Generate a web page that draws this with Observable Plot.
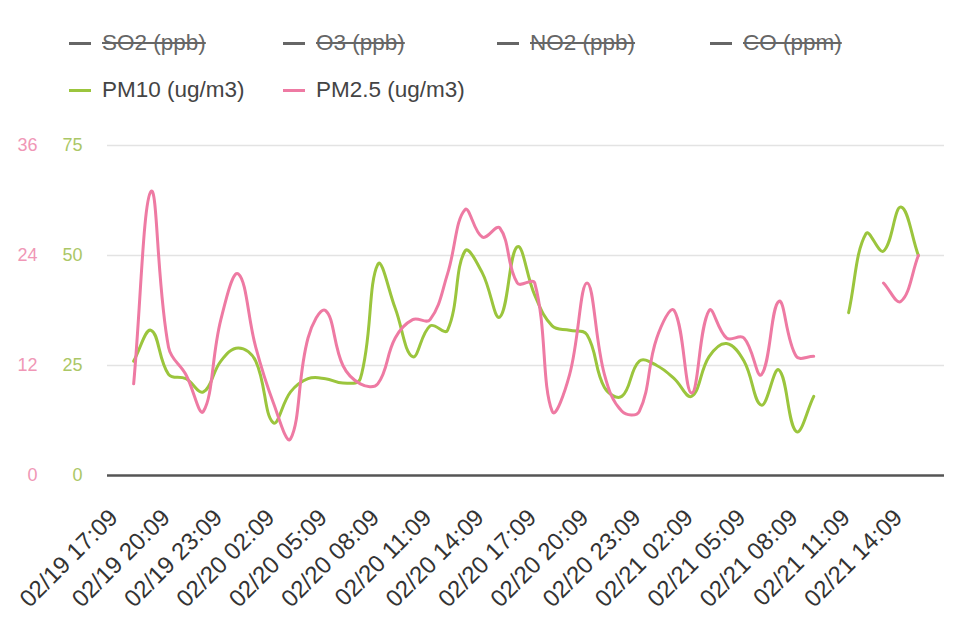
<!DOCTYPE html>
<html>
<head>
<meta charset="utf-8">
<script src="https://cdn.jsdelivr.net/npm/d3@7"></script>
<script src="https://cdn.jsdelivr.net/npm/@observablehq/plot@0.6"></script>
<style>
  html, body { margin: 0; padding: 0; background: #fff; }
  #wrap { position: relative; width: 960px; height: 640px; font-family: "Liberation Sans", Arial, sans-serif; }
  .lg { position: absolute; display: flex; align-items: center; font-size: 22.5px; color: #444; white-space: nowrap; }
  .lg .sw { width: 22px; height: 3px; margin-right: 11px; }
  .lg.off { color: #666; text-decoration: line-through; }
  #chart { position: absolute; left: 0; top: 120px; }
</style>
</head>
<body>
<div id="wrap">
  <div id="legend"></div>
  <div id="chart"></div>
</div>
<script>
// ---- data ----
const times = [
  "02/19 17:09","02/19 18:09","02/19 19:09","02/19 20:09","02/19 21:09","02/19 22:09","02/19 23:09",
  "02/20 00:09","02/20 01:09","02/20 02:09","02/20 03:09","02/20 04:09","02/20 05:09","02/20 06:09",
  "02/20 07:09","02/20 08:09","02/20 09:09","02/20 10:09","02/20 11:09","02/20 12:09","02/20 13:09",
  "02/20 14:09","02/20 15:09","02/20 16:09","02/20 17:09","02/20 18:09","02/20 19:09","02/20 20:09",
  "02/20 21:09","02/20 22:09","02/20 23:09","02/21 00:09","02/21 01:09","02/21 02:09","02/21 03:09",
  "02/21 04:09","02/21 05:09","02/21 06:09","02/21 07:09","02/21 08:09","02/21 09:09","02/21 10:09",
  "02/21 11:09","02/21 12:09","02/21 13:09","02/21 14:09"
];
const xTickLabels = [
  "02/19 17:09","02/19 20:09","02/19 23:09","02/20 02:09","02/20 05:09","02/20 08:09","02/20 11:09",
  "02/20 14:09","02/20 17:09","02/20 20:09","02/20 23:09","02/21 02:09","02/21 05:09","02/21 08:09",
  "02/21 11:09","02/21 14:09"
];
const pm10 = [26,33,23,22,19,26,29,26,12,19,22,22,21,22,48,38,27,34,33,51,46,36,52,41,34,33,32,20,18,26,25,22,18,27,30,26,16,24,10,18,null,37,55,51,61,50];
const pm25 = [10,31,14,11,7,17,22,14,8,4,15,18,12,10,10,15,17,17,22,29,26,27,21,21,7,11,21,11,7,7,15,18,9,18,15,15,11,19,13,13,null,null,null,21,19,24];
const pm10Ticks = [0,25,50,75];
const pm25Ticks = [0,12,24,36];
const legendItems = [
  {label: "SO2 (ppb)", color: "#666", off: true},
  {label: "O3 (ppb)", color: "#666", off: true},
  {label: "NO2 (ppb)", color: "#666", off: true},
  {label: "CO (ppm)", color: "#666", off: true},
  {label: "PM10 (ug/m3)", color: "#9bc53d", off: false},
  {label: "PM2.5 (ug/m3)", color: "#ee7aa3", off: false}
];

const GREEN = "#9bc53d", PINK = "#ee7aa3";
const PM25_MAX = 36, PM10_MAX = 75;

// ---- legend ----
const legendPos = [[69,43],[283,43],[497,43],[710,43],[69,90],[283,90]];
const lg = document.getElementById("legend");
legendItems.forEach((it, i) => {
  const d = document.createElement("div");
  d.className = "lg" + (it.off ? " off" : "");
  d.style.left = legendPos[i][0] + "px";
  d.style.top = (legendPos[i][1] - 13) + "px";
  d.style.height = "26px";
  const sw = document.createElement("span");
  sw.className = "sw";
  sw.style.background = it.color;
  const tx = document.createElement("span");
  tx.textContent = it.label;
  d.appendChild(sw); d.appendChild(tx);
  lg.appendChild(d);
});

// ---- Chart.js-like spline (tension 0.4) ----
function chartjsCurve(context) {
  let pts = [];
  return {
    areaStart() {}, areaEnd() {},
    lineStart() { pts = []; },
    point(x, y) { pts.push([+x, +y]); },
    lineEnd() {
      const n = pts.length;
      if (!n) return;
      const t = 0.4;
      const cps = pts.map((p, i) => {
        const prev = i > 0 ? pts[i - 1] : p;
        const next = i < n - 1 ? pts[i + 1] : p;
        const d01 = Math.hypot(p[0] - prev[0], p[1] - prev[1]);
        const d12 = Math.hypot(next[0] - p[0], next[1] - p[1]);
        let s01 = d01 / (d01 + d12), s12 = d12 / (d01 + d12);
        if (isNaN(s01)) s01 = 0;
        if (isNaN(s12)) s12 = 0;
        const fa = t * s01, fb = t * s12;
        return {
          px: p[0] - fa * (next[0] - prev[0]), py: p[1] - fa * (next[1] - prev[1]),
          nx: p[0] + fb * (next[0] - prev[0]), ny: p[1] + fb * (next[1] - prev[1])
        };
      });
      context.moveTo(pts[0][0], pts[0][1]);
      if (n === 1) { context.lineTo(pts[0][0], pts[0][1]); return; }
      for (let i = 1; i < n; i++) {
        context.bezierCurveTo(cps[i - 1].nx, cps[i - 1].ny, cps[i].px, cps[i].py, pts[i][0], pts[i][1]);
      }
    }
  };
}

const rows = times.map((t, i) => ({t, pm10: pm10[i], pm25: pm25[i]}));

const chart = Plot.plot({
  width: 960,
  height: 520,
  marginLeft: 107,
  marginRight: 16,
  marginTop: 25,
  marginBottom: 165,
  style: {fontFamily: "'Liberation Sans', Arial, sans-serif", fontSize: "18px", background: "#fff"},
  x: {type: "point", domain: times, padding: 1.5, round: false, axis: null},
  y: {domain: [0, PM10_MAX], axis: null},
  marks: [
    Plot.gridY(pm10Ticks.filter(d => d > 0), {stroke: "#e3e3e3", strokeOpacity: 1, strokeWidth: 1.5}),
    Plot.ruleY([0], {stroke: "#555", strokeWidth: 2.5}),
    Plot.axisY(pm10Ticks, {anchor: "left", tickSize: 0, tickPadding: 25, fill: "#abc766", fontSize: 18}),
    Plot.axisY(pm10Ticks, {anchor: "left", tickSize: 0, tickPadding: 70, fill: "#f097b6", fontSize: 18,
      tickFormat: (d, i) => pm25Ticks[i]}),
    Plot.line(rows, {x: "t", y: d => d.pm10, stroke: GREEN, strokeWidth: 3, curve: chartjsCurve}),
    Plot.line(rows, {x: "t", y: d => d.pm25 == null ? null : d.pm25 * PM10_MAX / PM25_MAX, stroke: PINK, strokeWidth: 3, curve: chartjsCurve}),
    Plot.text(xTickLabels, {x: d => d, frameAnchor: "bottom", dx: -20, dy: 38, rotate: -45,
      textAnchor: "end", lineAnchor: "middle", fontSize: 24, fill: "#333"})
  ]
});
document.getElementById("chart").appendChild(chart);
</script>
</body>
</html>
